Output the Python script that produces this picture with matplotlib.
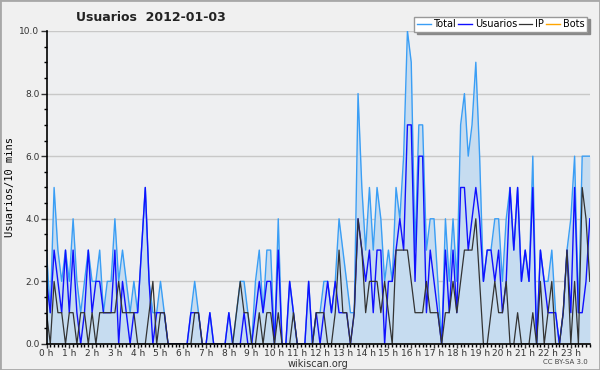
import matplotlib
matplotlib.use("Agg")
import matplotlib.pyplot as plt
from matplotlib.patches import Rectangle
from matplotlib.ticker import MultipleLocator, FormatStrFormatter

# 10-minute slots, 2012-01-03
total = [3, 1, 5, 3, 2, 3, 2, 4, 2, 1, 2, 3, 2, 2, 3, 1, 2, 2, 4, 2, 3, 2, 1, 2,
         1, 3, 5, 2, 1, 1, 2, 1, 0, 0, 0, 0, 0, 0, 1, 2, 1, 0, 0, 1, 0, 0, 0, 0,
         1, 0, 1, 2, 2, 1, 0, 2, 3, 1, 3, 3, 0, 4, 0, 0, 2, 1, 0, 0, 0, 2, 0, 1,
         1, 2, 2, 1, 2, 4, 3, 2, 1, 1, 8, 5, 3, 5, 3, 5, 4, 2, 3, 2, 5, 4, 6, 10,
         9, 3, 7, 7, 3, 4, 4, 2, 0, 4, 2, 4, 2, 7, 8, 6, 7, 9, 6, 2, 3, 3, 4, 4,
         2, 4, 5, 3, 5, 2, 3, 2, 6, 0, 3, 2, 2, 3, 1, 0, 1, 3, 4, 6, 1, 6, 6, 6]
usuarios = [2, 1, 3, 2, 1, 3, 1, 3, 1, 0, 1, 3, 1, 2, 2, 1, 1, 1, 3, 0, 2, 1, 0, 1,
            1, 3, 5, 2, 0, 1, 1, 1, 0, 0, 0, 0, 0, 0, 1, 1, 1, 0, 0, 1, 0, 0, 0, 0,
            1, 0, 0, 0, 1, 0, 0, 1, 2, 1, 2, 2, 0, 3, 0, 0, 2, 1, 0, 0, 0, 2, 0, 1,
            0, 1, 2, 1, 2, 1, 1, 1, 0, 1, 4, 3, 2, 3, 1, 3, 3, 0, 2, 2, 3, 4, 3, 7,
            7, 2, 6, 6, 1, 3, 2, 1, 0, 3, 1, 3, 1, 5, 5, 3, 4, 5, 4, 2, 3, 3, 2, 3,
            1, 2, 5, 3, 5, 2, 3, 2, 5, 0, 3, 2, 1, 1, 1, 0, 1, 3, 1, 5, 1, 1, 2, 4]
ip = [1, 0, 2, 1, 1, 0, 1, 1, 0, 1, 1, 0, 1, 0, 1, 1, 1, 1, 1, 2, 1, 1, 1, 1,
      0, 0, 0, 1, 2, 0, 1, 1, 0, 0, 0, 0, 0, 0, 0, 1, 1, 0, 0, 0, 0, 0, 0, 0,
      0, 0, 1, 2, 1, 1, 0, 0, 1, 0, 1, 1, 0, 1, 0, 0, 0, 1, 0, 0, 0, 0, 0, 1,
      1, 1, 0, 0, 1, 3, 1, 1, 0, 1, 4, 3, 1, 2, 2, 2, 1, 2, 1, 0, 3, 3, 3, 3,
      2, 1, 1, 1, 2, 1, 1, 1, 0, 1, 1, 2, 1, 2, 3, 3, 3, 4, 2, 0, 0, 1, 2, 1,
      1, 2, 0, 0, 1, 0, 0, 0, 1, 0, 2, 0, 1, 2, 0, 0, 1, 3, 0, 2, 0, 5, 4, 2]
bots = [0] * 144
hour_labels = [f"{h} h" for h in range(24)]

x = [i / 6 for i in range(len(total))]

fig = plt.figure(figsize=(6, 3.7), dpi=100, facecolor="#f0f0f0")
ax = fig.add_axes([0.0775, 0.0703, 0.9055, 0.8460])
ax.set_facecolor("#eeeff1")

ax.fill_between(x, total, 0, color="#c6dcf0", linewidth=0)
ax.plot(x, total, color="#3a9ef5", linewidth=1.0, label="Total")
ax.plot(x, usuarios, color="#1010ff", linewidth=1.0, label="Usuarios")
ax.plot(x, ip, color="#333333", linewidth=0.9, label="IP")
ax.plot(x, bots, color="#ffa500", linewidth=1.0, label="Bots", zorder=1)

ax.set_xlim(0, x[-1])
ax.set_ylim(0, 10)
ax.yaxis.set_major_locator(MultipleLocator(2))
ax.yaxis.set_minor_locator(MultipleLocator(0.5))
ax.yaxis.set_major_formatter(FormatStrFormatter("%.1f"))
ax.set_xticks(range(24))
ax.set_xticklabels(hour_labels)
ax.xaxis.set_minor_locator(MultipleLocator(1 / 6))
ax.grid(axis="y", color="#c8c8c8", linewidth=1.0)
ax.set_axisbelow(True)

for side in ("top", "right"):
    ax.spines[side].set_visible(False)
for side in ("left", "bottom"):
    ax.spines[side].set_linewidth(1.2)
    ax.spines[side].set_zorder(5)

ax.tick_params(axis="both", which="major", direction="out", length=4, width=1,
               labelsize=6.5, pad=1, colors="#333333")
ax.tick_params(axis="both", which="minor", direction="out", length=2.5, width=1)
ax.tick_params(axis="x", which="major", length=3, pad=0.5)

ax.set_ylabel("Usuarios/10 mins", fontsize=7.5, family="DejaVu Sans Mono", labelpad=3)
ax.set_xlabel("wikiscan.org", fontsize=7, labelpad=1, color="#333333")
fig.text(0.252, 0.953, "Usuarios  2012-01-03", fontsize=9, fontweight="bold",
         ha="center", va="center", color="#222222")
fig.text(0.98, 0.022, "CC BY-SA 3.0", fontsize=5, ha="right", va="center",
         color="#444444")

leg = ax.legend(ncol=4, loc="upper right", bbox_to_anchor=(0.978, 0.955),
                bbox_transform=fig.transFigure, fontsize=7, frameon=True,
                fancybox=False, handlelength=1.4, handletextpad=0.3,
                columnspacing=0.2, borderpad=0.25, borderaxespad=0,
                shadow={"color": "#888888", "alpha": 1})
leg.get_frame().set_edgecolor("#999999")
leg.get_frame().set_linewidth(1.0)
leg.get_frame().set_facecolor("white")
leg.get_frame().set_alpha(1)

fig.patches.append(Rectangle((0, 0), 1, 1, transform=fig.transFigure,
                             fill=False, edgecolor="#a8a8a8", linewidth=2))

fig.savefig("out.png", dpi=100, facecolor=fig.get_facecolor())
